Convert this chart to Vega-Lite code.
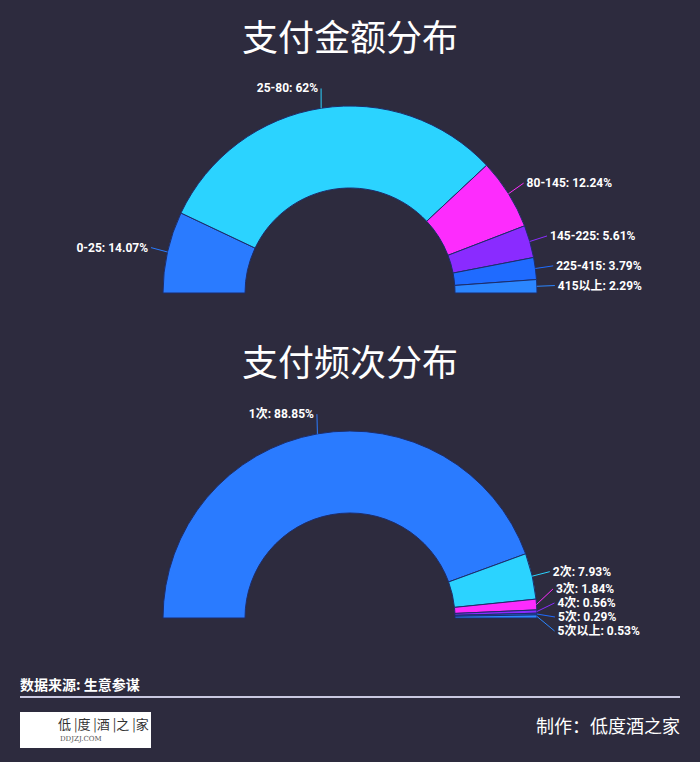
{
  "$schema": "https://vega.github.io/schema/vega-lite/v6.json",
  "background": "#2d2b3e",
  "padding": {"left": 0, "right": 0, "top": 22, "bottom": 0},
  "spacing": 34,
  "config": {"view": {"stroke": null}},
  "datasets": {
    "amount": [
      {"i": 1, "cat": "0-25", "pct": 14.07},
      {"i": 2, "cat": "25-80", "pct": 62},
      {"i": 3, "cat": "80-145", "pct": 12.24},
      {"i": 4, "cat": "145-225", "pct": 5.61},
      {"i": 5, "cat": "225-415", "pct": 3.79},
      {"i": 6, "cat": "415以上", "pct": 2.29}
    ],
    "freq": [
      {"i": 1, "cat": "1次", "pct": 88.85},
      {"i": 2, "cat": "2次", "pct": 7.93},
      {"i": 3, "cat": "3次", "pct": 1.84},
      {"i": 4, "cat": "4次", "pct": 0.56},
      {"i": 5, "cat": "5次", "pct": 0.29},
      {"i": 6, "cat": "5次以上", "pct": 0.53}
    ]
  },
  "vconcat": [
    {
      "title": {"text": "支付金额分布", "fontSize": 36, "color": "#ffffff", "font": "Noto Sans CJK SC", "fontWeight": "normal", "offset": 14, "anchor": "middle"},
      "width": 700,
      "height": 240,
      "data": {"name": "amount"},
      "transform": [
        {"window": [{"op": "sum", "field": "pct", "as": "cum"}, {"op": "row_number", "as": "idx"}], "sort": [{"field": "i"}], "frame": [null, 0]},
        {"joinaggregate": [{"op": "count", "as": "n"}]},
        {"calculate": "(datum.cum - datum.pct / 2) / 100 * PI", "as": "mid"},
        {"calculate": "datum.mid > PI / 2", "as": "right"},
        {"calculate": "207 * sin(datum.mid)", "as": "ny"},
        {"calculate": "datum.right ? max(datum.ny, -13 + 14 * (datum.n - datum.idx)) : datum.ny", "as": "ly1"},
        {"window": [{"op": "lag", "field": "ly1", "as": "prev1"}], "sort": [{"field": "i"}]},
        {"calculate": "datum.right && datum.prev1 != null ? min(datum.ly1, datum.prev1 - 14) : datum.ly1", "as": "ly2"},
        {"window": [{"op": "lag", "field": "ly2", "as": "prev2"}], "sort": [{"field": "i"}]},
        {"calculate": "datum.right && datum.prev2 != null ? min(datum.ly2, datum.prev2 - 14) : datum.ly2", "as": "ly"},
        {"calculate": "datum.right ? sqrt(max(208 * 208 - datum.ly * datum.ly, 0)) : -207 * cos(datum.mid)", "as": "lx"},
        {"calculate": "-187 * cos(datum.mid)", "as": "sx"},
        {"calculate": "187 * sin(datum.mid)", "as": "sy"},
        {"calculate": "datum.right ? datum.lx - 3 : datum.lx + 3", "as": "ex"},
        {"calculate": "datum.cat + ': ' + datum.pct + '%'", "as": "label"}
      ],
      "layer": [
        {
          "mark": {"type": "arc", "innerRadius": 105, "outerRadius": 187, "stroke": "#1d2d6b", "strokeWidth": 1},
          "encoding": {
            "theta": {"field": "pct", "type": "quantitative", "stack": true, "scale": {"range": [-1.5707963, 1.5707963]}},
            "order": {"field": "i", "type": "quantitative"},
            "color": {"field": "cat", "type": "nominal", "legend": null, "scale": {"domain": ["0-25", "25-80", "80-145", "145-225", "225-415", "415以上"], "range": ["#2a7bff", "#2bd3ff", "#fd2cfd", "#8a2bff", "#1f6bff", "#2b86ff"]}},
            "x": {"datum": 0, "type": "quantitative", "scale": {"domain": [-350, 350], "nice": false, "zero": false}, "axis": null},
            "y": {"datum": 0, "type": "quantitative", "scale": {"domain": [-20, 220], "nice": false, "zero": false}, "axis": null}
          }
        },
        {
          "mark": {"type": "rule", "strokeWidth": 1},
          "encoding": {
            "x": {"field": "sx", "type": "quantitative", "scale": {"domain": [-350, 350], "nice": false, "zero": false}, "axis": null},
            "y": {"field": "sy", "type": "quantitative", "scale": {"domain": [-20, 220], "nice": false, "zero": false}, "axis": null},
            "x2": {"field": "ex"},
            "y2": {"field": "ly"},
            "color": {"field": "cat", "type": "nominal", "legend": null}
          }
        },
        {
          "transform": [{"filter": "datum.right"}],
          "mark": {"type": "text", "align": "left", "baseline": "middle", "color": "#ffffff", "fontSize": 12, "fontWeight": "bold", "font": "Roboto, Noto Sans CJK SC"},
          "encoding": {
            "x": {"field": "lx", "type": "quantitative", "scale": {"domain": [-350, 350], "nice": false, "zero": false}, "axis": null},
            "y": {"field": "ly", "type": "quantitative", "scale": {"domain": [-20, 220], "nice": false, "zero": false}, "axis": null},
            "text": {"field": "label"}
          }
        },
        {
          "transform": [{"filter": "!datum.right"}],
          "mark": {"type": "text", "align": "right", "baseline": "middle", "color": "#ffffff", "fontSize": 12, "fontWeight": "bold", "font": "Roboto, Noto Sans CJK SC"},
          "encoding": {
            "x": {"field": "lx", "type": "quantitative", "scale": {"domain": [-350, 350], "nice": false, "zero": false}, "axis": null},
            "y": {"field": "ly", "type": "quantitative", "scale": {"domain": [-20, 220], "nice": false, "zero": false}, "axis": null},
            "text": {"field": "label"}
          }
        }
      ]
    },
    {
      "title": {"text": "支付频次分布", "fontSize": 36, "color": "#ffffff", "font": "Noto Sans CJK SC", "fontWeight": "normal", "offset": 14, "anchor": "middle"},
      "width": 700,
      "height": 240,
      "data": {"name": "freq"},
      "transform": [
        {"window": [{"op": "sum", "field": "pct", "as": "cum"}, {"op": "row_number", "as": "idx"}], "sort": [{"field": "i"}], "frame": [null, 0]},
        {"joinaggregate": [{"op": "count", "as": "n"}]},
        {"calculate": "(datum.cum - datum.pct / 2) / 100 * PI", "as": "mid"},
        {"calculate": "datum.mid > PI / 2", "as": "right"},
        {"calculate": "207 * sin(datum.mid)", "as": "ny"},
        {"calculate": "datum.right ? max(datum.ny, -13 + 14 * (datum.n - datum.idx)) : datum.ny", "as": "ly1"},
        {"window": [{"op": "lag", "field": "ly1", "as": "prev1"}], "sort": [{"field": "i"}]},
        {"calculate": "datum.right && datum.prev1 != null ? min(datum.ly1, datum.prev1 - 14) : datum.ly1", "as": "ly2"},
        {"window": [{"op": "lag", "field": "ly2", "as": "prev2"}], "sort": [{"field": "i"}]},
        {"calculate": "datum.right && datum.prev2 != null ? min(datum.ly2, datum.prev2 - 14) : datum.ly2", "as": "ly"},
        {"calculate": "datum.right ? sqrt(max(208 * 208 - datum.ly * datum.ly, 0)) : -207 * cos(datum.mid)", "as": "lx"},
        {"calculate": "-187 * cos(datum.mid)", "as": "sx"},
        {"calculate": "187 * sin(datum.mid)", "as": "sy"},
        {"calculate": "datum.right ? datum.lx - 3 : datum.lx + 3", "as": "ex"},
        {"calculate": "datum.cat + ': ' + datum.pct + '%'", "as": "label"}
      ],
      "layer": [
        {
          "mark": {"type": "arc", "innerRadius": 105, "outerRadius": 187, "stroke": "#1d2d6b", "strokeWidth": 1},
          "encoding": {
            "theta": {"field": "pct", "type": "quantitative", "stack": true, "scale": {"range": [-1.5707963, 1.5707963]}},
            "order": {"field": "i", "type": "quantitative"},
            "color": {"field": "cat", "type": "nominal", "legend": null, "scale": {"domain": ["1次", "2次", "3次", "4次", "5次", "5次以上"], "range": ["#2a7bff", "#2bd3ff", "#fd2cfd", "#8a2bff", "#1f6bff", "#2b86ff"]}},
            "x": {"datum": 0, "type": "quantitative", "scale": {"domain": [-350, 350], "nice": false, "zero": false}, "axis": null},
            "y": {"datum": 0, "type": "quantitative", "scale": {"domain": [-20, 220], "nice": false, "zero": false}, "axis": null}
          }
        },
        {
          "mark": {"type": "rule", "strokeWidth": 1},
          "encoding": {
            "x": {"field": "sx", "type": "quantitative", "scale": {"domain": [-350, 350], "nice": false, "zero": false}, "axis": null},
            "y": {"field": "sy", "type": "quantitative", "scale": {"domain": [-20, 220], "nice": false, "zero": false}, "axis": null},
            "x2": {"field": "ex"},
            "y2": {"field": "ly"},
            "color": {"field": "cat", "type": "nominal", "legend": null}
          }
        },
        {
          "transform": [{"filter": "datum.right"}],
          "mark": {"type": "text", "align": "left", "baseline": "middle", "color": "#ffffff", "fontSize": 12, "fontWeight": "bold", "font": "Roboto, Noto Sans CJK SC"},
          "encoding": {
            "x": {"field": "lx", "type": "quantitative", "scale": {"domain": [-350, 350], "nice": false, "zero": false}, "axis": null},
            "y": {"field": "ly", "type": "quantitative", "scale": {"domain": [-20, 220], "nice": false, "zero": false}, "axis": null},
            "text": {"field": "label"}
          }
        },
        {
          "transform": [{"filter": "!datum.right"}],
          "mark": {"type": "text", "align": "right", "baseline": "middle", "color": "#ffffff", "fontSize": 12, "fontWeight": "bold", "font": "Roboto, Noto Sans CJK SC"},
          "encoding": {
            "x": {"field": "lx", "type": "quantitative", "scale": {"domain": [-350, 350], "nice": false, "zero": false}, "axis": null},
            "y": {"field": "ly", "type": "quantitative", "scale": {"domain": [-20, 220], "nice": false, "zero": false}, "axis": null},
            "text": {"field": "label"}
          }
        }
      ]
    },
    {
      "width": 700,
      "height": 90,
      "data": {"values": [{"source": "数据来源: 生意参谋", "maker": "制作：低度酒之家", "brand": "低 |度 |酒 |之 |家", "site": "DDJZJ.COM"}]},
      "layer": [
        {
          "mark": {"type": "text", "align": "left", "baseline": "middle", "color": "#ffffff", "fontSize": 14, "fontWeight": "bold", "font": "Noto Sans CJK SC"},
          "encoding": {
            "x": {"datum": 20, "type": "quantitative", "scale": {"domain": [0, 700], "nice": false, "zero": false}, "axis": null},
            "y": {"datum": 14, "type": "quantitative", "scale": {"domain": [0, 90], "nice": false, "zero": false, "reverse": true}, "axis": null},
            "text": {"field": "source"}
          }
        },
        {
          "mark": {"type": "rule", "color": "#c9c8e0", "strokeWidth": 2},
          "encoding": {
            "x": {"datum": 20, "type": "quantitative", "scale": {"domain": [0, 700], "nice": false, "zero": false}, "axis": null},
            "x2": {"datum": 680},
            "y": {"datum": 25, "type": "quantitative", "scale": {"domain": [0, 90], "nice": false, "zero": false, "reverse": true}, "axis": null}
          }
        },
        {
          "mark": {"type": "rect", "color": "#ffffff"},
          "encoding": {
            "x": {"datum": 20, "type": "quantitative", "scale": {"domain": [0, 700], "nice": false, "zero": false}, "axis": null},
            "x2": {"datum": 151},
            "y": {"datum": 40, "type": "quantitative", "scale": {"domain": [0, 90], "nice": false, "zero": false, "reverse": true}, "axis": null},
            "y2": {"datum": 76}
          }
        },
        {
          "mark": {"type": "text", "align": "left", "baseline": "middle", "color": "#333333", "fontSize": 13, "font": "Noto Sans CJK SC"},
          "encoding": {
            "x": {"datum": 58, "type": "quantitative", "scale": {"domain": [0, 700], "nice": false, "zero": false}, "axis": null},
            "y": {"datum": 53, "type": "quantitative", "scale": {"domain": [0, 90], "nice": false, "zero": false, "reverse": true}, "axis": null},
            "text": {"field": "brand"}
          }
        },
        {
          "mark": {"type": "text", "align": "left", "baseline": "middle", "color": "#555555", "fontSize": 7, "font": "DejaVu Serif"},
          "encoding": {
            "x": {"datum": 60, "type": "quantitative", "scale": {"domain": [0, 700], "nice": false, "zero": false}, "axis": null},
            "y": {"datum": 67, "type": "quantitative", "scale": {"domain": [0, 90], "nice": false, "zero": false, "reverse": true}, "axis": null},
            "text": {"field": "site"}
          }
        },
        {
          "mark": {"type": "text", "align": "right", "baseline": "middle", "color": "#ffffff", "fontSize": 18, "font": "Noto Sans CJK SC"},
          "encoding": {
            "x": {"datum": 680, "type": "quantitative", "scale": {"domain": [0, 700], "nice": false, "zero": false}, "axis": null},
            "y": {"datum": 56, "type": "quantitative", "scale": {"domain": [0, 90], "nice": false, "zero": false, "reverse": true}, "axis": null},
            "text": {"field": "maker"}
          }
        }
      ]
    }
  ]
}
